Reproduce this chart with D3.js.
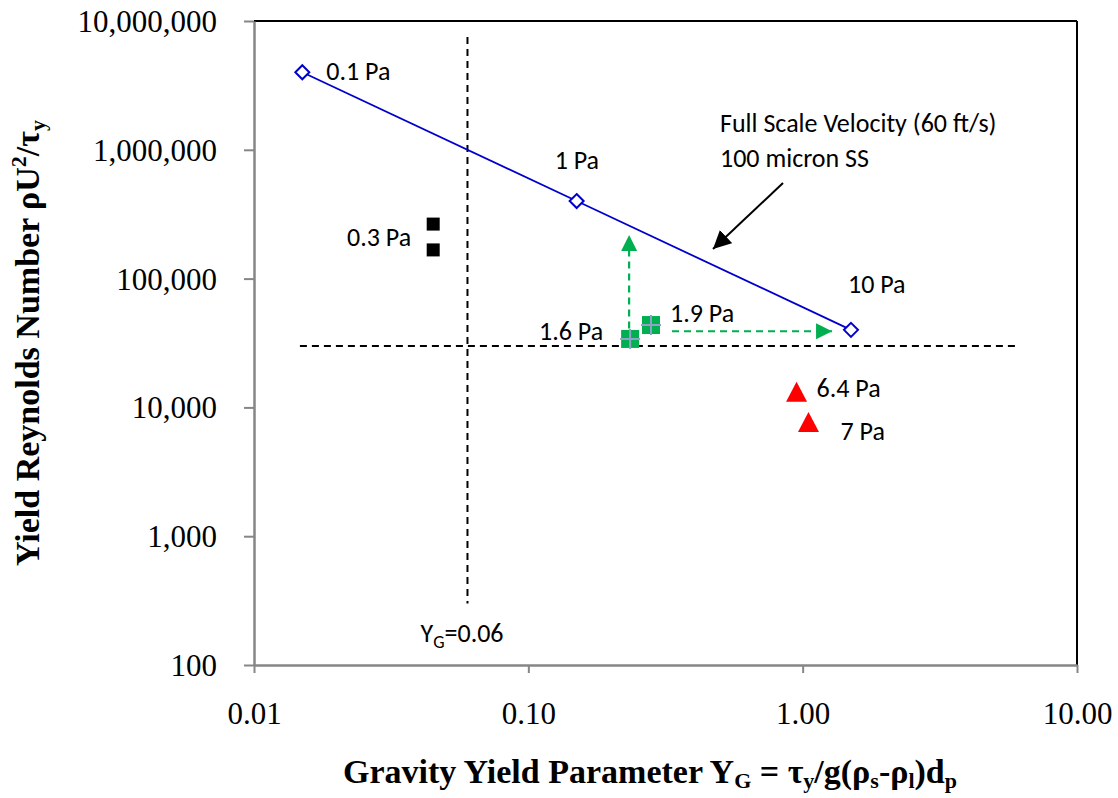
<!DOCTYPE html>
<html>
<head>
<meta charset="utf-8">
<script src="https://cdn.jsdelivr.net/npm/d3@7"></script>
<style>
  body { margin: 0; background: #fff; }
  svg { display: block; }
</style>
</head>
<body>
<div id="chart"></div>
<script>
// axis ticks
const xTicks = [0.01, 0.1, 1, 10];
const xTickLabels = ["0.01", "0.10", "1.00", "10.00"];
const yTicks = [100, 1000, 10000, 100000, 1000000, 10000000];
const yTickLabels = ["100", "1,000", "10,000", "100,000", "1,000,000", "10,000,000"];

// full scale velocity line (blue diamonds)
const fullX = [0.015, 0.15, 1.5];
const fullY = [4000000, 400000, 40000];
const fullLabels = ["0.1 Pa", "1 Pa", "10 Pa"];

// 0.3 Pa (black squares)
const blackX = [0.045, 0.045];
const blackY = [265000, 167000];

// 1.6 / 1.9 Pa (green squares)
const greenX = [0.235, 0.28];
const greenY = [34000, 43600];
const greenLabels = ["1.6 Pa", "1.9 Pa"];

// 6.4 / 7 Pa (red triangles)
const redX = [0.95, 1.05];
const redY = [13200, 7700];
const redLabels = ["6.4 Pa", "7 Pa"];

// reference lines
const ygLine = 0.06;
const ygLineY = [7500000, 300];
const reLine = 30000;
const reLineX = [0.0147, 6.1];

// green arrows
const upArrowX = 0.233;
const upArrowY = [41000, 218000];
const rightArrowY = 39000;
const rightArrowX = [0.334, 1.28];

const W = 1118, H = 798;
const plotL = 254, plotR = 1077, plotT = 21, plotB = 665;

const svg = d3.select("#chart").append("svg")
    .attr("width", W)
    .attr("height", H);

const x = d3.scaleLog().domain([0.01, 10]).range([plotL, plotR]);
const y = d3.scaleLog().domain([100, 10000000]).range([plotB, plotT]);

const serif = "'Liberation Serif', 'Times New Roman', serif";
const sans = "Carlito, Lato, sans-serif";

const defs = svg.append("defs");
defs.append("marker")
    .attr("id", "greenHead")
    .attr("viewBox", "0 0 10 10")
    .attr("refX", 10).attr("refY", 5)
    .attr("markerWidth", 16).attr("markerHeight", 16)
    .attr("markerUnits", "userSpaceOnUse")
    .attr("orient", "auto")
    .append("path").attr("d", "M0,0 L10,5 L0,10 Z").attr("fill", "#00b050");

defs.append("marker")
    .attr("id", "blackHead")
    .attr("viewBox", "0 0 10 10")
    .attr("refX", 10).attr("refY", 5)
    .attr("markerWidth", 18).attr("markerHeight", 18)
    .attr("markerUnits", "userSpaceOnUse")
    .attr("orient", "auto")
    .append("path").attr("d", "M0,0 L10,5 L0,10 Z").attr("fill", "#000");

// frame: top and right black, left and bottom gray
svg.append("line").attr("x1", plotL).attr("x2", plotR).attr("y1", plotT).attr("y2", plotT)
    .attr("stroke", "#000").attr("stroke-width", 2);
svg.append("line").attr("x1", plotR).attr("x2", plotR).attr("y1", plotT).attr("y2", plotB)
    .attr("stroke", "#000").attr("stroke-width", 2);

const xAxis = d3.axisBottom(x).tickValues(xTicks)
    .tickFormat((d, i) => xTickLabels[i]).tickSizeInner(8).tickSizeOuter(0).tickPadding(29);
const yAxis = d3.axisLeft(y).tickValues(yTicks)
    .tickFormat((d, i) => yTickLabels[i]).tickSizeInner(10).tickSizeOuter(0).tickPadding(27);

const gx = svg.append("g").attr("transform", `translate(0,${plotB})`).call(xAxis);
const gy = svg.append("g").attr("transform", `translate(${plotL},0)`).call(yAxis);

[gx, gy].forEach(g => {
    g.select(".domain").attr("stroke", "#868686").attr("stroke-width", 2.5);
    g.selectAll(".tick line").attr("stroke", "#868686").attr("stroke-width", 2);
    g.selectAll(".tick text").attr("fill", "#000")
        .attr("font-family", serif).attr("font-size", "31px");
});
gx.selectAll(".tick text").attr("dy", "0.71em");
gy.selectAll(".tick text").attr("dy", "0.34em");

// dashed reference lines
svg.append("line")
    .attr("x1", x(ygLine)).attr("x2", x(ygLine))
    .attr("y1", y(ygLineY[0])).attr("y2", y(ygLineY[1]))
    .attr("stroke", "#000").attr("stroke-width", 2).attr("stroke-dasharray", "7,5");
svg.append("line")
    .attr("x1", x(reLineX[0])).attr("x2", x(reLineX[1]))
    .attr("y1", y(reLine)).attr("y2", y(reLine))
    .attr("stroke", "#000").attr("stroke-width", 2).attr("stroke-dasharray", "7,5");

// green dashed arrows
svg.append("line")
    .attr("x1", x(upArrowX)).attr("x2", x(upArrowX))
    .attr("y1", y(upArrowY[0])).attr("y2", y(upArrowY[1]))
    .attr("stroke", "#00b050").attr("stroke-width", 2.2).attr("stroke-dasharray", "7,5")
    .attr("marker-end", "url(#greenHead)");
svg.append("line")
    .attr("x1", x(rightArrowX[0])).attr("x2", x(rightArrowX[1]))
    .attr("y1", y(rightArrowY)).attr("y2", y(rightArrowY))
    .attr("stroke", "#00b050").attr("stroke-width", 2.2).attr("stroke-dasharray", "7,5")
    .attr("marker-end", "url(#greenHead)");

// full scale line
const fullData = fullX.map((v, i) => ({ x: v, y: fullY[i], label: fullLabels[i] }));
svg.append("path")
    .datum(fullData)
    .attr("fill", "none")
    .attr("stroke", "#0000cc")
    .attr("stroke-width", 1.8)
    .attr("d", d3.line().x(d => x(d.x)).y(d => y(d.y)));

svg.selectAll("path.diamond")
    .data(fullData)
    .enter().append("path")
    .attr("class", "diamond")
    .attr("transform", d => `translate(${x(d.x)},${y(d.y)})`)
    .attr("d", "M0,-7 L7,0 L0,7 L-7,0 Z")
    .attr("fill", "#fff").attr("stroke", "#0000cc").attr("stroke-width", 2);

// black squares
blackX.forEach((v, i) => {
    svg.append("rect")
        .attr("x", x(v) - 6.5).attr("y", y(blackY[i]) - 6.5)
        .attr("width", 13).attr("height", 13)
        .attr("fill", "#000");
});

// green squares with plus
greenX.forEach((v, i) => {
    const cx = x(v), cy = y(greenY[i]);
    svg.append("rect")
        .attr("x", cx - 9).attr("y", cy - 9)
        .attr("width", 18).attr("height", 18)
        .attr("fill", "#00b050");
    svg.append("path")
        .attr("d", `M${cx - 10},${cy} H${cx + 10} M${cx},${cy - 10} V${cy + 10}`)
        .attr("stroke", "#8fa3c8").attr("stroke-width", 2);
});

// red triangles
redX.forEach((v, i) => {
    svg.append("path")
        .attr("transform", `translate(${x(v)},${y(redY[i])})`)
        .attr("d", "M0,-10 L10.5,10 L-10.5,10 Z")
        .attr("fill", "#ff0000");
});

// point labels
function label(px, py, text, anchor) {
    return svg.append("text")
        .attr("x", px).attr("y", py)
        .attr("text-anchor", anchor || "start")
        .attr("font-family", sans).attr("font-size", "26px")
        .attr("fill", "#000")
        .text(text);
}

const fullOffsets = [[24, 8], [-22, -32], [-3, -37]];
fullData.forEach((d, i) => label(x(d.x) + fullOffsets[i][0], y(d.y) + fullOffsets[i][1], d.label));

label(x(blackX[0]) - 22, (y(blackY[0]) + y(blackY[1])) / 2 + 9, "0.3 Pa", "end");

label(x(greenX[0]) - 27, y(greenY[0]) + 1, greenLabels[0], "end");
label(x(greenX[1]) + 19, y(greenY[1]) - 3, greenLabels[1]);

label(x(redX[0]) + 20, y(redY[0]) + 5, redLabels[0]);
label(x(redX[1]) + 32, y(redY[1]) + 18, redLabels[1]);

// annotation
label(720, 132, "Full Scale Velocity (60 ft/s)");
label(720, 167, "100 micron SS");
svg.append("line")
    .attr("x1", 783).attr("y1", 183).attr("x2", 713).attr("y2", 249)
    .attr("stroke", "#000").attr("stroke-width", 2)
    .attr("marker-end", "url(#blackHead)");

// Y_G = 0.06 label
const yg = svg.append("text")
    .attr("x", x(ygLine) - 47).attr("y", 642)
    .attr("font-family", sans).attr("font-size", "26px").attr("fill", "#000");
yg.append("tspan").text("Y");
yg.append("tspan").attr("font-size", "18px").attr("dy", 6).text("G");
yg.append("tspan").attr("dy", -6).text("=0.06");

// x axis title
const xt = svg.append("text")
    .attr("x", 650).attr("y", 783)
    .attr("text-anchor", "middle")
    .attr("font-family", serif).attr("font-weight", "bold").attr("font-size", "34px")
    .attr("fill", "#000");
xt.append("tspan").text("Gravity Yield  Parameter Y");
xt.append("tspan").attr("font-size", "22px").attr("dy", 5).text("G");
xt.append("tspan").attr("dy", -5).text(" = τ");
xt.append("tspan").attr("font-size", "22px").attr("dy", 5).text("y");
xt.append("tspan").attr("dy", -5).text("/g(ρ");
xt.append("tspan").attr("font-size", "22px").attr("dy", 5).text("s");
xt.append("tspan").attr("dy", -5).text("-ρ");
xt.append("tspan").attr("font-size", "22px").attr("dy", 5).text("l");
xt.append("tspan").attr("dy", -5).text(")d");
xt.append("tspan").attr("font-size", "22px").attr("dy", 5).text("p");

// y axis title
const yt = svg.append("text")
    .attr("transform", "translate(39,343) rotate(-90)")
    .attr("text-anchor", "middle")
    .attr("font-family", serif).attr("font-weight", "bold").attr("font-size", "34px")
    .attr("fill", "#000");
yt.append("tspan").text("Yield Reynolds Number    ρU");
yt.append("tspan").attr("font-size", "22px").attr("dy", -13).text("2");
yt.append("tspan").attr("dy", 13).text("/τ");
yt.append("tspan").attr("font-size", "22px").attr("dy", 6).text("y");
</script>
</body>
</html>
